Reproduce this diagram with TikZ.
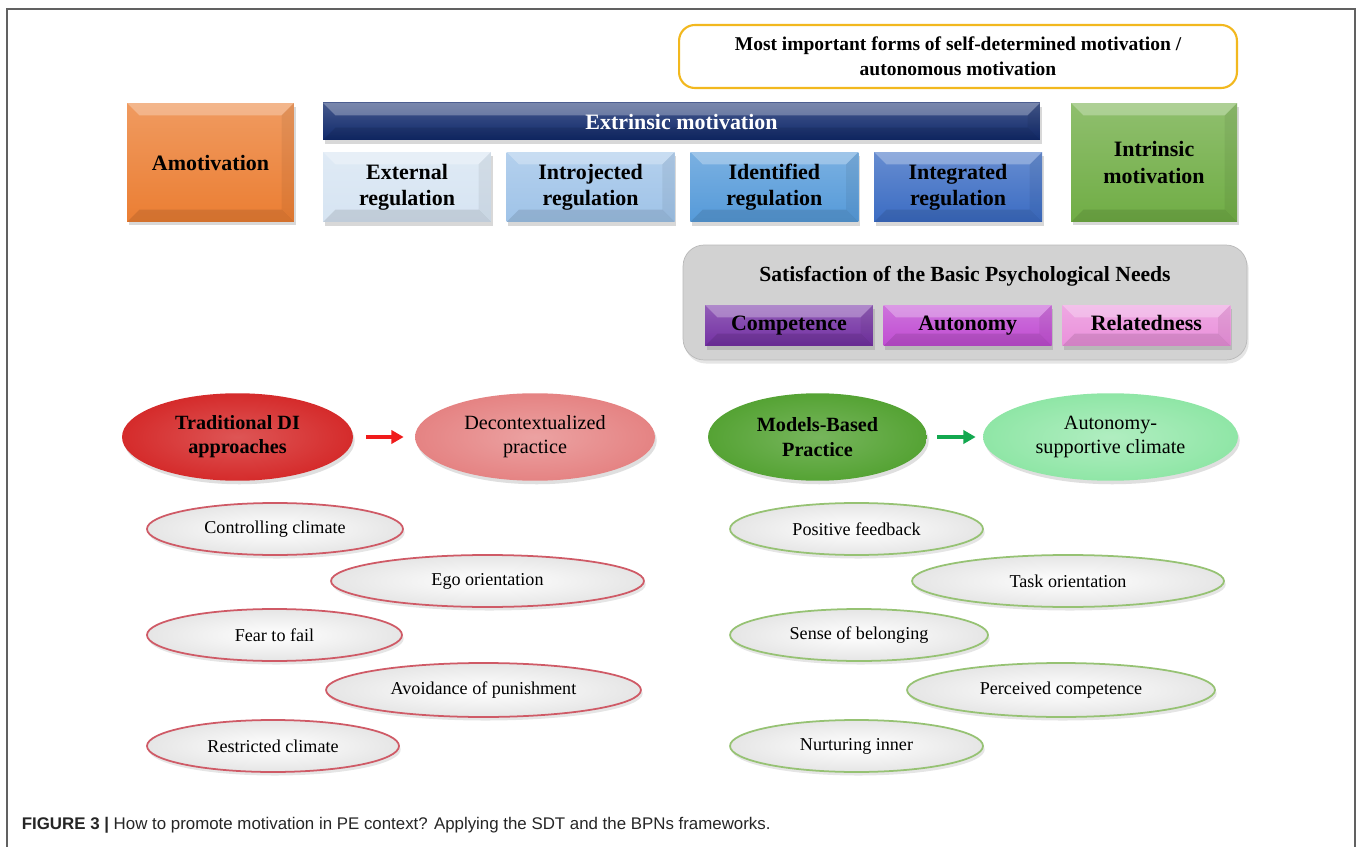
\documentclass[tikz,border=0pt]{standalone}
\usepackage{fontspec}
\setmainfont{Liberation Serif}
\newfontfamily\capfont{Liberation Sans}
\usetikzlibrary{shapes.geometric, arrows.meta, positioning, shadows}

\definecolor{AmoOrange}{HTML}{EB7E33}
\definecolor{ExtNavy}{HTML}{10296B}
\definecolor{RegOne}{HTML}{D6E4F2}
\definecolor{RegTwo}{HTML}{9FC3E8}
\definecolor{RegThree}{HTML}{559AD9}
\definecolor{RegFour}{HTML}{3B6CC3}
\definecolor{IntGreen}{HTML}{70AD45}
\definecolor{FormsYellow}{HTML}{F2B81E}
\definecolor{NeedGray}{HTML}{D2D2D2}
\definecolor{NeedOne}{HTML}{7330A3}
\definecolor{NeedTwo}{HTML}{C04CD2}
\definecolor{NeedThree}{HTML}{EA90DB}
\definecolor{TradRed}{HTML}{D52B2B}
\definecolor{DecoPink}{HTML}{E58383}
\definecolor{MbpGreen}{HTML}{55A334}
\definecolor{AscMint}{HTML}{8FE6A6}
\definecolor{ArrowRed}{HTML}{F01B1B}
\definecolor{ArrowGreen}{HTML}{12A84F}
\definecolor{RimRed}{HTML}{CF5A66}
\definecolor{RimGreen}{HTML}{96C273}

\tikzset{
  bevel/.style={path picture={
    \fill[white, opacity=0.28] (path picture bounding box.north west) -- (path picture bounding box.north east)
      -- ([xshift=-7pt,yshift=-7pt]path picture bounding box.north east) -- ([xshift=7pt,yshift=-7pt]path picture bounding box.north west) -- cycle;
    \fill[black, opacity=0.10] (path picture bounding box.south west) -- (path picture bounding box.south east)
      -- ([xshift=-7pt,yshift=7pt]path picture bounding box.south east) -- ([xshift=7pt,yshift=7pt]path picture bounding box.south west) -- cycle;
    \fill[black, opacity=0.06] (path picture bounding box.north east) -- (path picture bounding box.south east)
      -- ([xshift=-7pt,yshift=7pt]path picture bounding box.south east) -- ([xshift=-7pt,yshift=-7pt]path picture bounding box.north east) -- cycle;
  }},
  tint/.style={top color=#1!78!white, bottom color=#1}
}

\begin{document}
\begin{tikzpicture}[x=0.02cm, y=-0.02cm,
    every node/.style={align=center, inner sep=2pt},
    box/.style={rectangle, font=\fontsize{12.5}{15}\selectfont\bfseries, bevel,
      drop shadow={opacity=0.3, shadow xshift=1pt, shadow yshift=-2pt}},
    reg/.style={box, minimum width=3.36cm, minimum height=1.4cm},
    need/.style={box, minimum width=3.36cm, minimum height=0.82cm, text height=8.5pt, text depth=2.5pt},
    bigpill/.style={ellipse, minimum height=1.75cm, font=\fontsize{11.5}{13.8}\selectfont,
      drop shadow={opacity=0.25, shadow xshift=1pt, shadow yshift=-2pt}},
    pill/.style={ellipse, draw, line width=1pt, inner color=white, outer color=gray!20,
      minimum width=5.12cm, minimum height=1.04cm, font=\fontsize{10.3}{12}\selectfont,
      drop shadow={opacity=0.2, shadow xshift=1pt, shadow yshift=-2pt}},
    leftpill/.style={pill, draw=RimRed},
    rightpill/.style={pill, draw=RimGreen},
    push/.style={-{Triangle[length=7pt,width=7.5pt]}, line width=2.3pt, shorten >=0.22cm, shorten <=0.26cm}
  ]
  \useasboundingbox (0,0) rectangle (1358,847);
  \fill[white] (0,0) rectangle (1358,847);
  \draw[line width=1.3pt, black!62] (7,847) |- (1355,9) -- (1355,847);

  % continuum of motivation
  \node (forms) [draw=FormsYellow, line width=1.2pt, rounded corners=9pt, fill=white,
    minimum width=11.16cm, minimum height=1.26cm, font=\fontsize{11.1}{14.5}\selectfont\bfseries]
    at (958,56.5) {Most important forms of self-determined motivation /\\autonomous motivation};
  \node (amo) [box, tint=AmoOrange, minimum width=3.34cm, minimum height=2.38cm] at (210.5,162.5) {Amotivation};
  \node (ext) [box, tint=ExtNavy, text=white, minimum width=14.34cm, minimum height=0.74cm] at (681.5,121.5) {Extrinsic motivation};
  \node (extreg) [reg, tint=RegOne] at (407,187) {External\\regulation};
  \node (introreg) [reg, tint=RegTwo, right=0.3cm of extreg] {Introjected\\regulation};
  \node (identreg) [reg, tint=RegThree, right=0.3cm of introreg] {Identified\\regulation};
  \node (integreg) [reg, tint=RegFour, right=0.3cm of identreg] {Integrated\\regulation};
  \node (intr) [box, tint=IntGreen, minimum width=3.32cm, minimum height=2.38cm] at (1154,162.5) {Intrinsic\\motivation};

  % basic psychological needs
  \node (bpn) [fill=NeedGray, draw=gray!55, rounded corners=12pt, minimum width=11.28cm, minimum height=2.3cm,
    drop shadow={opacity=0.2, shadow xshift=1pt, shadow yshift=-2pt}] at (965,302.5) {};
  \node (bpntitle) [font=\fontsize{12.3}{15}\selectfont\bfseries] at (965,276) {Satisfaction of the Basic Psychological Needs};
  \node (comp) [need, tint=NeedOne] at (789,325.5) {Competence};
  \node (auto) [need, tint=NeedTwo, right=0.2cm of comp] {Autonomy};
  \node (rel) [need, tint=NeedThree, right=0.2cm of auto] {Relatedness};

  % teaching approaches
  \node (trad) [bigpill, inner color=TradRed!80!white, outer color=TradRed, minimum width=4.62cm,
    font=\fontsize{11.5}{13.8}\selectfont\bfseries] at (237.5,437) {Traditional DI\\approaches};
  \node (deco) [bigpill, inner color=DecoPink!75!white, outer color=DecoPink, minimum width=4.8cm] at (535,437) {Decontextualized\\practice};
  \node (mbp) [bigpill, inner color=MbpGreen!80!white, outer color=MbpGreen, minimum width=4.38cm,
    font=\fontsize{11.5}{13.8}\selectfont\bfseries] at (817.5,437) {Models-Based\\Practice};
  \node (asc) [bigpill, inner color=AscMint!70!white, outer color=AscMint, minimum width=5.1cm] at (1110.5,437) {Autonomy-\\supportive climate};
  \draw[push, ArrowRed] (trad) -- (deco);
  \draw[push, ArrowGreen, shorten <=0.2cm, shorten >=0.14cm] (mbp) -- (asc);

  \node (ctrl) [leftpill] at (275,529) {Controlling climate};
  \node (ego) [leftpill, minimum width=6.26cm] at (487.5,581) {Ego orientation};
  \node (fear) [leftpill, minimum width=5.1cm] at (274.5,635) {Fear to fail};
  \node (avoid) [leftpill, minimum width=6.3cm, minimum height=1.08cm] at (483.5,690) {Avoidance of punishment};
  \node (restr) [leftpill, minimum width=5.04cm] at (273,746) {Restricted climate};

  \node (posfb) [rightpill, minimum width=5.06cm] at (856.5,529) {Positive feedback};
  \node (task) [rightpill, minimum width=6.24cm] at (1068,581) {Task orientation};
  \node (belong) [rightpill, minimum width=5.16cm] at (859,635) {Sense of belonging};
  \node (perc) [rightpill, minimum width=6.16cm, minimum height=1.08cm] at (1061,690) {Perceived competence};
  \node (nurt) [rightpill, minimum width=5.06cm] at (856.5,746) {Nurturing inner};

  \node (caption) [anchor=west, font=\capfont\fontsize{9.6}{12}\selectfont, text=black!85] at (18,825)
    {\textbf{FIGURE 3 |} How to promote motivation in PE context? Applying the SDT and the BPNs frameworks.};
\end{tikzpicture}
\end{document}
